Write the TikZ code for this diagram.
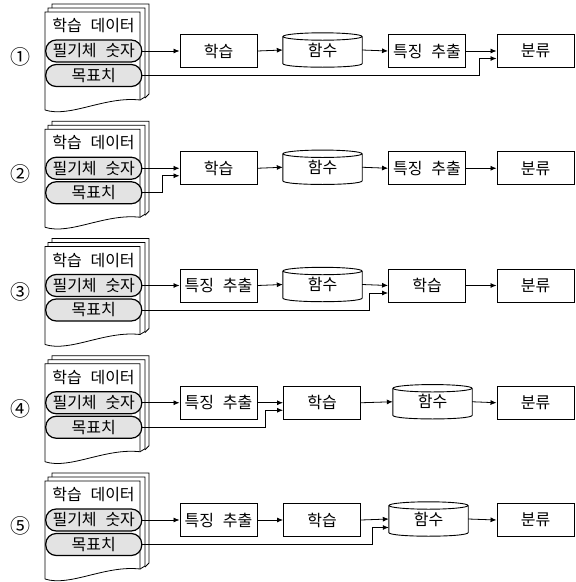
\documentclass[tikz,border=0pt]{standalone}
\usepackage{fontspec}
\setmainfont{Noto Sans CJK KR}
\usetikzlibrary{arrows.meta,calc}
\newcommand{\datastack}[2]{%
  \draw[page] (52,8) -- (52,4) -- (149,4) -- (149,94) -- (145,98);
  \draw[page] (48,12) -- (48,8) -- (145,8) -- (145,97) -- (140,100);
  \draw[page,fill=white] (45,110) -- (45,12) -- (140,12) -- (140,100)
     .. controls (105,96) and (70,118) .. (45,110);
  \node[numtext] (#1n) at (20,57) {#2};
  \node[inner sep=0pt] (#1h) at (93.5,25.5) {학습\hspace{0.55em}데이터};
  \node[pill] (#1p1) at (93.75,51) {필기체\hspace{0.55em}숫자};
  \node[pill] (#1p2) at (93.75,75.5) {목표치};
}
\newcommand{\cylshape}[1]{%
  \draw[line width=0.9pt] ([yshift=-3.7pt]#1.north west) -- ([yshift=3.7pt]#1.south west)
     .. controls +(0,4.93) and +(0,4.93) .. ([yshift=3.7pt]#1.south east)
     -- ([yshift=-3.7pt]#1.north east);
  \draw[line width=0.9pt] ([yshift=-3.7pt]#1.north) ellipse [x radius=39.5pt, y radius=3.7pt];
}
\begin{document}
\begin{tikzpicture}[x=1pt,y=-1pt,
  font=\fontsize{16pt}{18pt}\selectfont,
  arr/.style={-{Latex[length=6pt,width=5pt]}, line width=0.8pt},
  procbox/.style={draw, line width=0.9pt, minimum width=77pt, minimum height=33pt, inner sep=0pt},
  cylbody/.style={minimum width=79pt, minimum height=34pt, inner sep=0pt},
  pill/.style={draw, line width=1.2pt, fill=gray!22, rounded corners=10.5pt, minimum width=96pt, minimum height=22pt, inner sep=0pt},
  page/.style={draw, line width=0.8pt},
  numtext/.style={inner sep=0pt, font=\fontsize{20pt}{22pt}\selectfont}
]
\useasboundingbox (0,0) rectangle (576,582);

% Row 1
\begin{scope}
\datastack{a}{①}
\node[procbox] (a1) at (218.5,51) {학습};
\node[cylbody] (a2) at (322.5,50) {\raisebox{-3pt}{함수}}; \cylshape{a2}
\node[procbox] (a3) at (427,51) {특징\hspace{0.55em}추출};
\node[procbox] (a4) at (535.5,51) {분류};
\draw[arr] (ap1.east) -- (a1.west);
\draw[arr] (a1.east) -- (a2.west);
\draw[arr] (a2.east) -- (a3.west);
\draw[arr] (a3.east) -- (a4.west);
\coordinate (aj) at (479,58.5);
\draw[arr] (ap2.east) -| (aj) -- (aj -| a4.west);
\end{scope}

% Row 2
\begin{scope}[yshift=-117.25pt]
\datastack{b}{②}
\node[procbox] (b1) at (218.5,51) {학습};
\node[cylbody] (b2) at (322.5,50) {\raisebox{-3pt}{함수}}; \cylshape{b2}
\node[procbox] (b3) at (427,51) {특징\hspace{0.55em}추출};
\node[procbox] (b4) at (535.5,51) {분류};
\draw[arr] (bp1.east) -- (b1.west);
\draw[arr] (b1.east) -- (b2.west);
\draw[arr] (b2.east) -- (b3.west);
\draw[arr] (b3.east) -- (b4.west);
\coordinate (bj) at (162,58.5);
\draw[arr] (bp2.east) -| (bj) -- (bj -| b1.west);
\end{scope}

% Row 3
\begin{scope}[yshift=-234.5pt]
\datastack{c}{③}
\node[procbox] (c1) at (218.5,51) {특징\hspace{0.55em}추출};
\node[cylbody] (c2) at (322.5,50) {\raisebox{-3pt}{함수}}; \cylshape{c2}
\node[procbox] (c3) at (427,51) {학습};
\node[procbox] (c4) at (535.5,51) {분류};
\draw[arr] (cp1.east) -- (c1.west);
\draw[arr] (c1.east) -- (c2.west);
\draw[arr] (c2.east) -- (c3.west);
\draw[arr] (c3.east) -- (c4.west);
\coordinate (cj) at (369,58.5);
\draw[arr] (cp2.east) -| (cj) -- (cj -| c3.west);
\end{scope}

% Row 4
\begin{scope}[yshift=-351.75pt]
\datastack{d}{④}
\node[procbox] (d1) at (218.5,51) {특징\hspace{0.55em}추출};
\node[procbox] (d2) at (322,51) {학습};
\node[cylbody] (d3) at (432.5,50) {\raisebox{-3pt}{함수}}; \cylshape{d3}
\node[procbox] (d4) at (535.5,51) {분류};
\draw[arr] (dp1.east) -- (d1.west);
\draw[arr] (d1.east) -- (d2.west);
\draw[arr] (d2.east) -- (d3.west);
\draw[arr] (d3.east) -- (d4.west);
\coordinate (dj) at (265,58.5);
\draw[arr] (dp2.east) -| (dj) -- (dj -| d2.west);
\end{scope}

% Row 5
\begin{scope}[yshift=-469pt]
\datastack{e}{⑤}
\node[procbox] (e1) at (218.5,51) {특징\hspace{0.55em}추출};
\node[procbox] (e2) at (322,51) {학습};
\node[cylbody] (e3) at (428.5,50) {\raisebox{-3pt}{함수}}; \cylshape{e3}
\node[procbox] (e4) at (535.5,51) {분류};
\draw[arr] (ep1.east) -- (e1.west);
\draw[arr] (e1.east) -- (e2.west);
\draw[arr] (e2.east) -- (e3.west);
\draw[arr] (e3.east) -- (e4.west);
\coordinate (ej) at (372,58.5);
\draw[arr] (ep2.east) -| (ej) -- (ej -| e3.west);
\end{scope}
\end{tikzpicture}
\end{document}
